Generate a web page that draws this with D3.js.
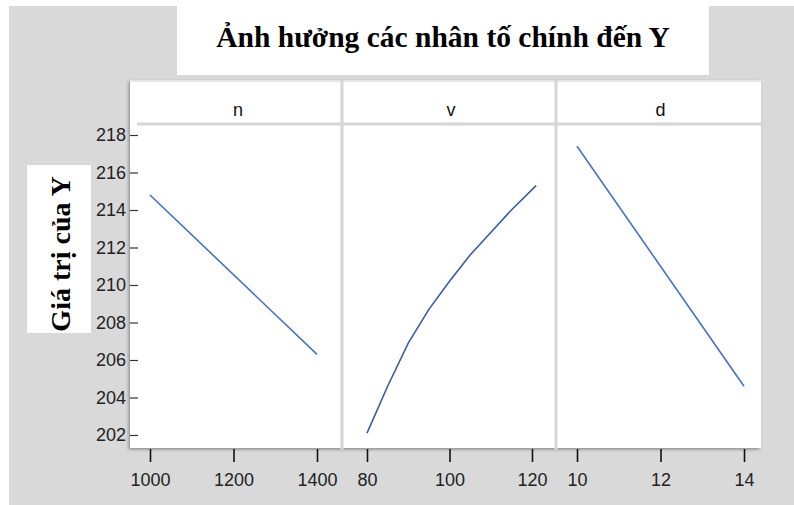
<!DOCTYPE html>
<html>
<head>
<meta charset="utf-8">
<script src="https://cdn.jsdelivr.net/npm/d3@7/dist/d3.min.js"></script>
<style>
  html, body { margin: 0; padding: 0; background: #ffffff; }
  svg { display: block; }
</style>
</head>
<body>
<svg id="chart" width="794" height="505"></svg>
<script>
// Main-effects data: mean response Y for each level of the three factors
const factorNames = ["n", "v", "d"];
const nLevels = [1000, 1400];
const nValues = [214.8, 206.3];
const vLevels = [80, 85, 90, 95, 100, 105, 110, 115, 121];
const vValues = [202.1, 204.6, 206.9, 208.7, 210.2, 211.6, 212.8, 214.0, 215.3];
const dLevels = [10, 14];
const dValues = [217.4, 204.6];

const nTicks = [1000, 1200, 1400];
const vTicks = [80, 100, 120];
const dTicks = [10, 12, 14];
const yTicks = [202, 204, 206, 208, 210, 212, 214, 216, 218];

const titleText = "Ảnh hưởng các nhân tố chính đến Y";
const yTitleText = "Giá trị của Y";

const svg = d3.select("#chart");
const W = 794, H = 505;

const defs = svg.append("defs");
const shadow = defs.append("filter").attr("id", "shadow")
  .attr("x", "-5%").attr("y", "-5%").attr("width", "110%").attr("height", "110%");
shadow.append("feDropShadow")
  .attr("dx", -1.5).attr("dy", 1.5).attr("stdDeviation", 1.5)
  .attr("flood-color", "#000").attr("flood-opacity", 0.35);

// Grey backdrop
svg.append("rect").attr("x", 9).attr("y", 6).attr("width", W - 9).attr("height", H - 6)
  .attr("fill", "#d9d9d9");

// Title box
svg.append("rect").attr("x", 177).attr("y", 6).attr("width", 532).attr("height", 69)
  .attr("fill", "#ffffff");
svg.append("text").attr("x", 443).attr("y", 47)
  .attr("text-anchor", "middle")
  .attr("font-family", "'Liberation Serif', 'DejaVu Serif', serif")
  .attr("font-weight", "bold").attr("font-size", 29.5)
  .attr("fill", "#000").text(titleText);

// Y-axis title box
svg.append("rect").attr("x", 27).attr("y", 165).attr("width", 64).attr("height", 168)
  .attr("fill", "#ffffff");
svg.append("text")
  .attr("transform", "translate(70,254) rotate(-90)")
  .attr("text-anchor", "middle")
  .attr("font-family", "'Liberation Serif', 'DejaVu Serif', serif")
  .attr("font-weight", "bold").attr("font-size", 28)
  .attr("fill", "#000").text(yTitleText);

// Panel frame
const panelTop = 80, panelBottom = 448, headerBottom = 124;
const panelLeft = 130, panelRight = 761;
svg.append("rect").attr("x", panelLeft).attr("y", panelTop)
  .attr("width", panelRight - panelLeft).attr("height", panelBottom - panelTop)
  .attr("fill", "#ffffff").attr("filter", "url(#shadow)");

const panels = [
  { name: factorNames[0], x0: 130, x1: 342, levels: nLevels, values: nValues, ticks: nTicks,
    color: "#4472c4", x: d3.scaleLinear().domain([1000, 1400]).range([150, 317]) },
  { name: factorNames[1], x0: 342, x1: 556, levels: vLevels, values: vValues, ticks: vTicks,
    color: "#3b5ba5", x: d3.scaleLinear().domain([80, 120]).range([367, 532]) },
  { name: factorNames[2], x0: 556, x1: 761, levels: dLevels, values: dValues, ticks: dTicks,
    color: "#4472c4", x: d3.scaleLinear().domain([10, 14]).range([577, 744]) }
];

const y = d3.scaleLinear().domain([202, 218]).range([435, 135]);

// Header separator and panel dividers
svg.append("line").attr("x1", 137).attr("x2", panelRight)
  .attr("y1", headerBottom).attr("y2", headerBottom)
  .attr("stroke", "#d6d6d6").attr("stroke-width", 3);
svg.append("line").attr("x1", panelLeft).attr("x2", panelRight)
  .attr("y1", panelTop + 1).attr("y2", panelTop + 1)
  .attr("stroke", "#e6e6e6").attr("stroke-width", 2);
[342, 556].forEach(xd => {
  svg.append("line").attr("x1", xd).attr("x2", xd)
    .attr("y1", panelTop).attr("y2", panelBottom + 2)
    .attr("stroke", "#d6d6d6").attr("stroke-width", 3);
});

const sansFont = "'Liberation Sans', Arial, sans-serif";

panels.forEach(p => {
  // Factor header
  svg.append("text").attr("x", (p.x0 + p.x1) / 2 + 2).attr("y", 116)
    .attr("text-anchor", "middle").attr("font-family", sansFont)
    .attr("font-size", 18).attr("fill", "#111").text(p.name);

  // Main-effect line
  const pts = p.levels.map((lv, i) => [lv, p.values[i]]);
  svg.append("path").datum(pts)
    .attr("fill", "none").attr("stroke", p.color).attr("stroke-width", 1.6)
    .attr("d", d3.line().x(d => p.x(d[0])).y(d => y(d[1])));

  // Bottom axis
  const ax = svg.append("g").attr("transform", `translate(0,${panelBottom + 1})`)
    .call(d3.axisBottom(p.x).tickValues(p.ticks).tickSize(13).tickPadding(11)
      .tickFormat(d3.format("d")));
  ax.select(".domain").remove();
  ax.selectAll(".tick line").attr("stroke", "#111").attr("stroke-width", 1.6);
  ax.selectAll(".tick text").attr("font-family", sansFont).attr("font-size", 18)
    .attr("fill", "#222");
});

// Left axis
const ay = svg.append("g").attr("transform", "translate(138,0)")
  .call(d3.axisLeft(y).tickValues(yTicks).tickSize(8).tickPadding(4)
    .tickFormat(d3.format("d")));
ay.select(".domain").remove();
ay.selectAll(".tick line").attr("stroke", "#333").attr("stroke-width", 1.2);
ay.selectAll(".tick text").attr("font-family", sansFont).attr("font-size", 18)
  .attr("fill", "#222");
</script>
</body>
</html>
